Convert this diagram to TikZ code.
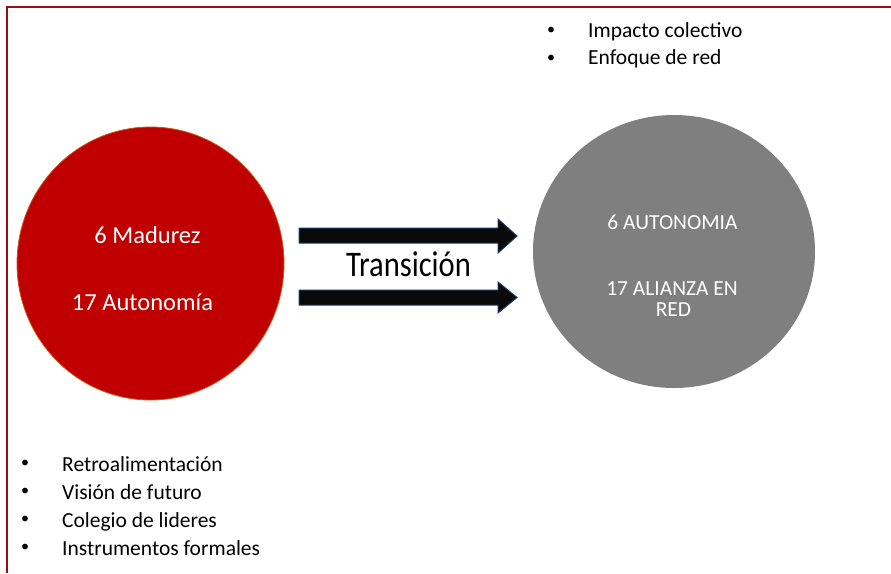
\documentclass[tikz,border=0pt]{standalone}
\usepackage{fontspec}
\setmainfont{Carlito}
\usetikzlibrary{shapes.geometric}
\definecolor{framec}{HTML}{9C0E0E}
\definecolor{redc}{HTML}{C00000}
\definecolor{redline}{HTML}{C55A11}
\definecolor{grayc}{HTML}{7F7F7F}
\definecolor{arrowline}{HTML}{1F3864}
\definecolor{arrowfill}{HTML}{0A0A0A}
\begin{document}
\begin{tikzpicture}[x=1pt,y=-1pt,
  bubble/.style={ellipse, inner sep=0pt},
  intext/.style={anchor=base, text=white, font=\fontsize{21.5}{26}\selectfont, inner sep=0pt},
  bigtext/.style={anchor=base, text=white, font=\fontsize{24.5}{29}\selectfont, inner sep=0pt},
  listtext/.style={anchor=base west, font=\fontsize{21.5}{26}\selectfont, inner sep=0pt},
  bullet/.style={anchor=center, font=\fontsize{16}{20}\selectfont, inner sep=0pt},
  blockarrow/.style={fill=arrowfill, draw=arrowline, line width=1pt, line join=miter}]
\useasboundingbox (0,0) rectangle (891,573);
\fill[white] (0,0) rectangle (891,573);
\draw[framec, line width=2pt] (7,573) -- (7,6.5) -- (891,6.5);

% circles
\node[bubble, fill=redc, draw=redline, line width=0.8pt, minimum width=267pt, minimum height=273pt] (red) at (150.5,263.5) {};
\node[bubble, fill=grayc, minimum width=282pt, minimum height=273pt] (gray) at (674,251.5) {};

% circle texts
\node[bigtext] (m6) at (147.5,243) {6 Madurez};
\node[bigtext] (m17) at (142.5,310) {17 Autonomía};
\node[intext] (a6) at (672.5,229) {6 AUTONOMIA};
\node[intext] (a17) at (672,295) {17 ALIANZA EN};
\node[intext] (ared) at (673.5,316) {RED};

% block arrows
\draw[blockarrow] (299,228) -- (498,228) -- (498,219) -- (517,236) -- (498,253) -- (498,243) -- (299,243) -- cycle;
\draw[blockarrow] (299,290) -- (498,290) -- (498,282) -- (517,297.5) -- (498,313) -- (498,305) -- (299,305) -- cycle;
\node[anchor=base, inner sep=0pt, font=\fontsize{36}{40}\selectfont, xscale=0.85] (tr) at (408.5,276) {Transición};

% top right list
\node[bullet] (b1) at (551,31) {•};
\node[listtext] (t1) at (588,37) {Impacto colectivo};
\node[bullet] (b2) at (551,58.5) {•};
\node[listtext] (t2) at (588,64.5) {Enfoque de red};

% bottom left list
\node[bullet] (c1) at (25,464) {•};
\node[listtext] (u1) at (62,471) {Retroalimentación};
\node[bullet] (c2) at (25,492) {•};
\node[listtext] (u2) at (62,499) {Visión de futuro};
\node[bullet] (c3) at (25,520) {•};
\node[listtext] (u3) at (62,527) {Colegio de lideres};
\node[bullet] (c4) at (25,548) {•};
\node[listtext] (u4) at (62,555) {Instrumentos formales};
\end{tikzpicture}
\end{document}
